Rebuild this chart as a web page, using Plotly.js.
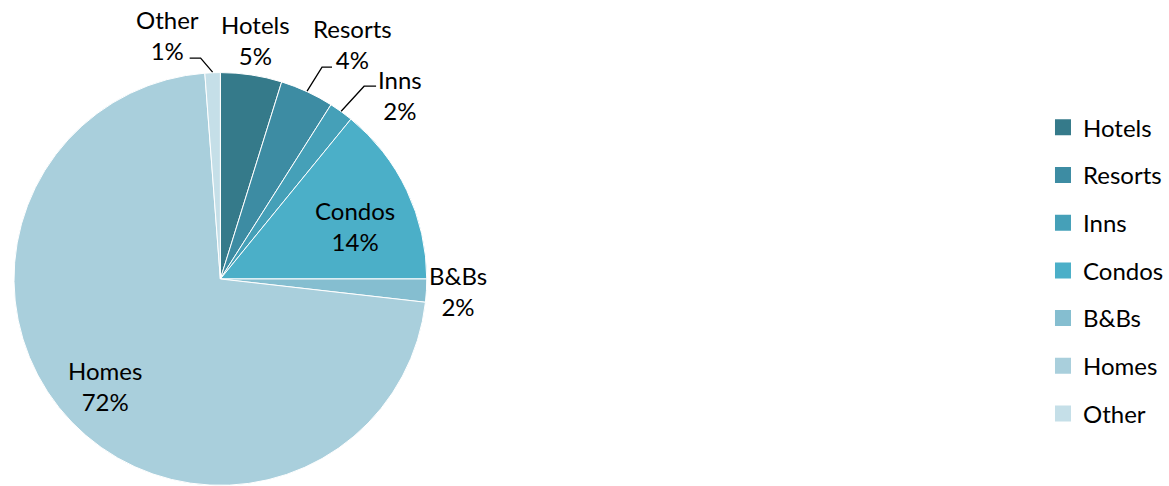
<!DOCTYPE html>
<html><head><meta charset="utf-8">
<script src="https://cdn.plot.ly/plotly-3.0.1.min.js"></script>
<style>html,body{margin:0;padding:0;background:#fff}#chart{width:1169px;height:486px}</style>
</head><body><div id="chart"></div>
<script>
const categories = ['Hotels','Resorts','Inns','Condos','B&Bs','Homes','Other'];
const shares = [4.8, 4.2, 1.9, 14.1, 1.8, 72.0, 1.2];
const colors = ['#357a8a','#3d8ca3','#45a0b8','#4bafc8','#85bed0','#a9cfdc','#c5dfe8'];

// label placement style per slice:
//  mode 'in'  : text centred on the bisector at rf * radius, nudged by (dx, dy) px
//  mode 'out' : text offset (dx, dy px) from the slice's mid point on the rim
//  leader     : optional elbow leader line from the rim: [elbow dx, dy, end dx, dy] px
const labelStyle = [
  {mode: 'out', dx: 4,   dy: -34},
  {mode: 'out', dx: 45,  dy: -47, leader: [15, -24, 25, -24]},
  {mode: 'out', dx: 59,  dy: -16, leader: [23, -25, 35, -25]},
  {mode: 'in',  rf: 0.69, dx: 6, dy: 8},
  {mode: 'out', dx: 32,  dy: 0},
  {mode: 'in',  rf: 0.77, dx: -1, dy: -3},
  {mode: 'out', dx: -45, dy: -37, leader: [-12, -14, -23, -14]}
];

const W = 1169, H = 486;
const FONT = 'Lato, "Open Sans", sans-serif';
const FS = 24;
const domain = {x: [0.012, 0.366], y: [0, 0.852]};

const pie = {
  type: 'pie',
  labels: categories,
  values: shares,
  sort: false,
  direction: 'clockwise',
  rotation: 0,
  marker: {colors: colors, line: {color: '#ffffff', width: 1}},
  textinfo: 'none',
  hoverinfo: 'none',
  domain: domain,
  showlegend: false
};

// pie geometry as Plotly lays it out (margins are zero)
const cxPx = (domain.x[0] + domain.x[1]) / 2 * W;
const cyPx = (1 - (domain.y[0] + domain.y[1]) / 2) * H;
const R = Math.min((domain.x[1] - domain.x[0]) * W, (domain.y[1] - domain.y[0]) * H) / 2;
const total = shares.reduce((a, b) => a + b, 0);
const toPaper = (px, py) => [px / W, 1 - py / H];

const annotations = [];
const shapes = [];
let cum = 0;
shares.forEach((v, i) => {
  const mid = (cum + v / 2) / total * 2 * Math.PI;   // clockwise from 12 o'clock
  cum += v;
  const st = labelStyle[i];
  const rr = st.mode === 'in' ? st.rf * R : R;
  const px = cxPx + rr * Math.sin(mid);
  const py = cyPx - rr * Math.cos(mid);
  const [x, y] = toPaper(px, py);
  annotations.push({
    xref: 'paper', yref: 'paper', x: x, y: y,
    text: categories[i] + '<br>' + Math.round(v / total * 100) + '%',
    align: 'center', showarrow: false, xanchor: 'center', yanchor: 'middle',
    xshift: st.dx, yshift: -st.dy,
    font: {family: FONT, size: FS, color: '#000'}
  });
  if (st.leader) {
    const [ex, ey, tx, ty] = st.leader;
    const p0 = toPaper(px, py), p1 = toPaper(px + ex, py + ey), p2 = toPaper(px + tx, py + ty);
    shapes.push({
      type: 'path', xref: 'paper', yref: 'paper',
      path: `M ${p0[0]} ${p0[1]} L ${p1[0]} ${p1[1]} L ${p2[0]} ${p2[1]}`,
      line: {color: '#000', width: 1.3}
    });
  }
});

const traces = [pie];
// legend entries (one group each so they can be spaced like the reference)
categories.forEach((c, i) => {
  traces.push({
    type: 'scatter', mode: 'markers', x: [null], y: [null],
    name: c, legendgroup: 'g' + i, showlegend: true,
    marker: {symbol: 'square', size: 16, color: colors[i]},
    hoverinfo: 'none'
  });
});

const layout = {
  width: W, height: H,
  margin: {l: 0, r: 0, t: 0, b: 0},
  paper_bgcolor: '#fff', plot_bgcolor: 'rgba(0,0,0,0)',
  xaxis: {visible: false, domain: [0.9, 1]},
  yaxis: {visible: false},
  showlegend: true,
  legend: {x: 0.8945, y: 0.443, yanchor: 'middle', xanchor: 'left',
    tracegroupgap: 13.5, itemwidth: 30,
    font: {family: FONT, size: FS, color: '#000'}},
  annotations: annotations,
  shapes: shapes
};
Plotly.newPlot('chart', traces, layout, {displayModeBar: false, staticPlot: true});
</script></body></html>
